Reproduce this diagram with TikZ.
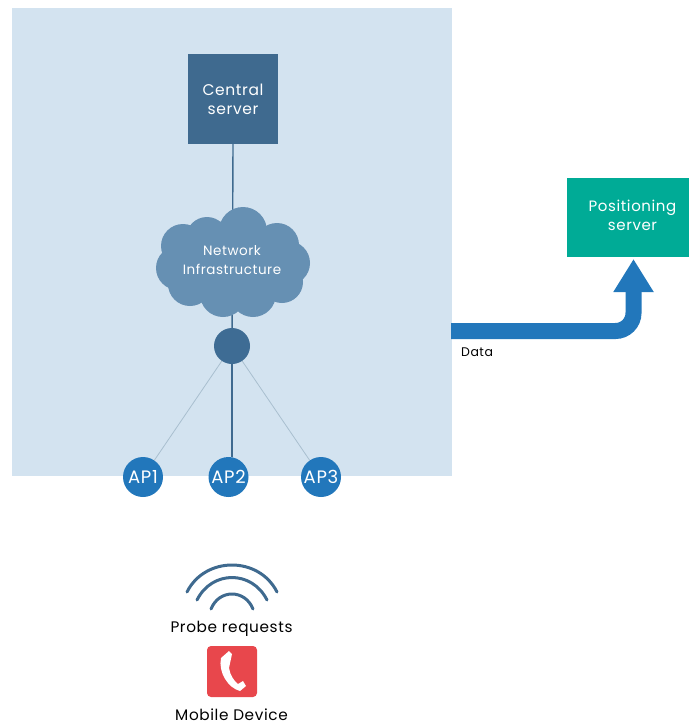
\documentclass[tikz,border=0pt]{standalone}
\usepackage{fontspec}
\setmainfont{Poppins}[LetterSpace=4]
\usetikzlibrary{arrows.meta}
\definecolor{zonecol}{HTML}{D3E3F0}
\definecolor{servercol}{HTML}{3F6A8F}
\definecolor{cloudcol}{HTML}{6690B3}
\definecolor{hubcol}{HTML}{3E6C94}
\definecolor{apcol}{HTML}{2277BB}
\definecolor{poscol}{HTML}{00AB96}
\definecolor{redcol}{HTML}{E8474C}
\definecolor{lightline}{HTML}{A9BFCF}
\definecolor{wavecol}{HTML}{3F6A8F}
\tikzset{
  px/.style={x=1pt,y=-1pt},
  boxtext/.style={text=white,align=center,font=\fontsize{13.5}{19}\selectfont},
  sizedbox/.style 2 args={minimum width=#1pt,minimum height=#2pt,inner sep=0pt,outer sep=0pt},
  apnode/.style={circle,fill=apcol,text=white,minimum size=40pt,inner sep=0pt,font=\fontsize{18}{20}\selectfont},
  darkline/.style={draw=servercol,line width=1.4pt},
  paleline/.style={draw=lightline,line width=0.8pt},
  wave/.style={draw=wavecol,line width=3pt,line cap=round},
  caption/.style={text=black,inner sep=0pt,font=\fontsize{15.3}{18}\selectfont},
}
\begin{document}
\begin{tikzpicture}[px]
\useasboundingbox (0,0) rectangle (689,725);
\node[sizedbox={440}{468},fill=zonecol] (zone) at (232,242) {};
\node[sizedbox={90}{90},fill=servercol,boxtext] (central) at (233,99) {\raisebox{-1pt}{\fontsize{15.5}{19}\selectfont Central}\\\raisebox{-1pt}{\fontsize{15.5}{19}\selectfont server}};
\node[sizedbox={122}{79},fill=poscol,boxtext] (pos) at (628,217.5) {};
\node[boxtext,inner sep=0pt] (postext) at (632.5,215.5) {\fontsize{15}{19}\selectfont Positioning\\\fontsize{15}{19}\selectfont server};
\coordinate (cloudc) at (232.5,262);
\node[circle,fill=hubcol,minimum size=36pt,inner sep=0pt] (hub) at (232,346) {};
\draw[darkline] (central.south) -- (cloudc);
\draw[darkline] (cloudc) -- (hub);
\foreach \cx/\cy/\cr in {243/231/24,207/238/21,183/246/22,178/268/22,190/284/22,223/294/23,253/294/23,282/282/21,288/263/22,277/245/22,232/262/42}
  \fill[cloudcol] (\cx,\cy) circle[radius=\cr];
\fill[cloudcol] (180,240) rectangle (285,290);
\node[boxtext] (cloud) at (232,260) {Network\\Infrastructure};
\node[apnode] (ap1) at (143,477) {AP1};
\node[apnode] (ap2) at (228.5,477) {AP2};
\node[apnode] (ap3) at (321,477) {AP3};
\draw[paleline] (hub) -- (ap1);
\draw[darkline] (hub) -- (hub |- ap2.north);
\draw[paleline] (hub) -- (ap3);
\coordinate (datastart) at (451,331);
\coordinate (dataend) at (633.5,259);
\draw[draw=apcol,line width=16pt,rounded corners=18pt,-{Triangle[length=33pt,width=38pt]}] (datastart) -| (dataend);
\node[caption,anchor=west] (data) at (461,352) {\fontsize{12.5}{14}\selectfont Data};
\draw[wave] (187,592) .. controls (205,556) and (259,556) .. (277,592);
\draw[wave] (197,600) .. controls (212,570) and (252,570) .. (267,600);
\draw[wave] (211,609) .. controls (219,589) and (245,589) .. (253,609);
\node[caption] (probe) at (231.5,629) {Probe requests};
\node[fill=redcol,rounded corners=4pt,sizedbox={50}{51}] (phone) at (232,671.5) {};
\fill[white] (221,658) -- (229,651) -- (232,654) -- (229,668) .. controls (230,675) and (234,681) .. (238,684) -- (243,681) -- (246,686) -- (240,691) .. controls (228,688) and (218,672) .. (221,658) -- cycle;
\node[caption] (mobile) at (231.5,715) {Mobile Device};
\end{tikzpicture}
\end{document}
